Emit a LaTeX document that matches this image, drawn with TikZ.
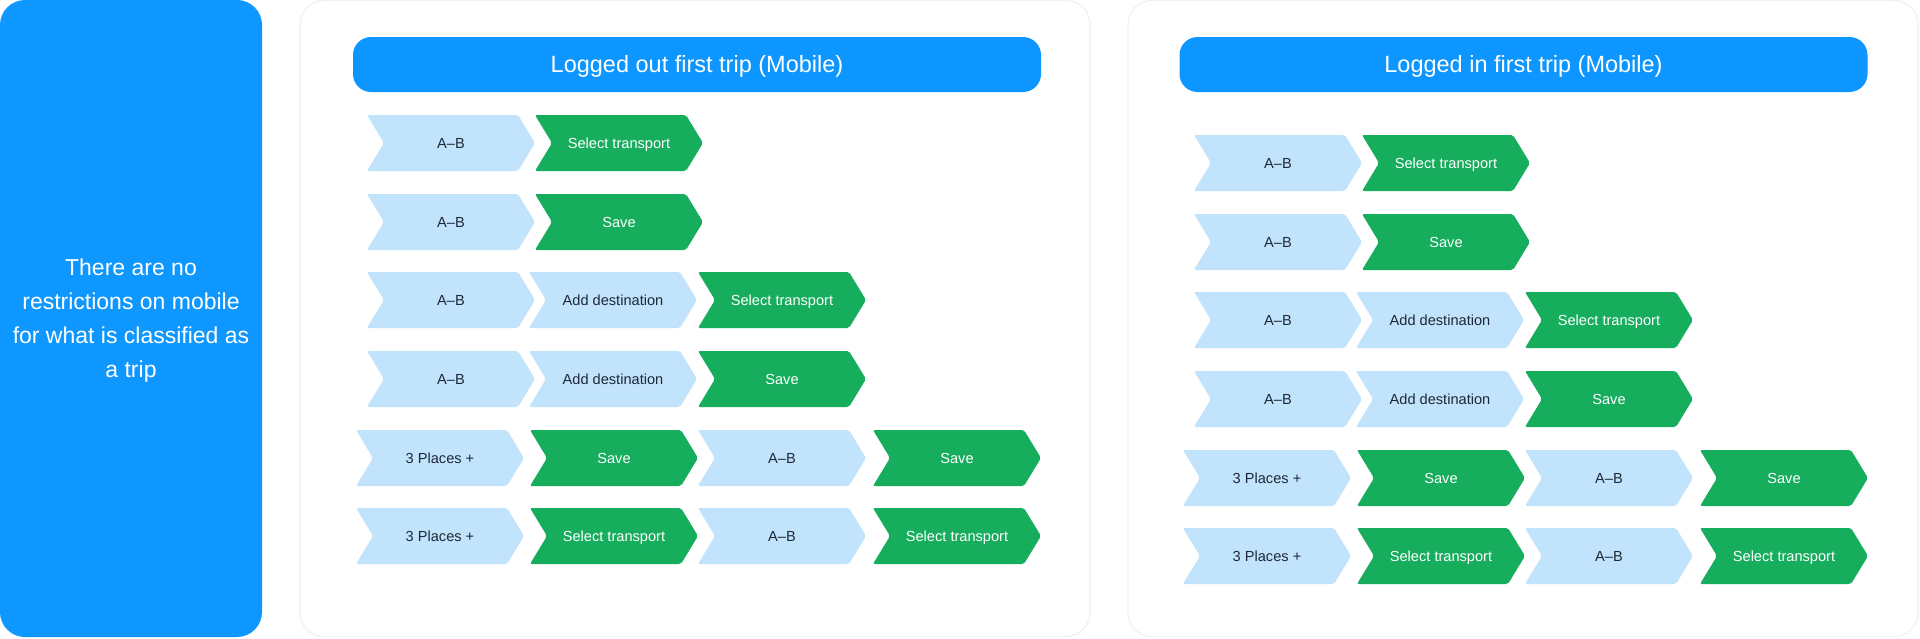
\documentclass[tikz,border=0pt]{standalone}
\usepackage{fontspec}
\setmainfont{Liberation Sans}
\definecolor{panelblue}{HTML}{0E97FE}
\definecolor{headblue}{HTML}{0D96FF}
\definecolor{chevblue}{HTML}{C1E3FB}
\definecolor{chevgreen}{HTML}{16AD5D}
\definecolor{darktext}{HTML}{1D2939}
\definecolor{cardline}{HTML}{F1F1F1}
\tikzset{
  panel/.style={fill=panelblue, rounded corners=25pt, minimum width=262pt, minimum height=637pt, inner sep=0pt},
  paneltext/.style={text=white, align=center, inner sep=0pt, font=\fontsize{23}{34}\selectfont},
  card/.style={draw=cardline, line width=1.2pt, fill=white, rounded corners=24pt,
    minimum width=790pt, minimum height=636pt, inner sep=0pt},
  header/.style={fill=headblue, rounded corners=18pt, minimum width=688pt, minimum height=55pt,
    text=white, inner sep=0pt, text height=16.8pt, text depth=0pt, font=\fontsize{23.5}{28}\selectfont},
  lbfill/.style={fill=chevblue, rounded corners=2pt},
  grfill/.style={fill=chevgreen, rounded corners=2pt},
  lbtext/.style={text=darktext, inner sep=0pt, text height=10.5pt, text depth=0pt, font=\fontsize{14.6}{17}\selectfont},
  grtext/.style={text=white, inner sep=0pt, text height=10.5pt, text depth=0pt, font=\fontsize{14.6}{17}\selectfont},
}
% #1 name, #2 left x, #3 centre y, #4 lb/gr, #5 text
\newcommand\chevbox[5]{%
  \fill[#4fill] ({#2},{#3-28}) -- ++(151,0) -- ++(17,28) -- ++(-17,28) -- ++(-151,0) -- ++(17,-28) -- cycle;
  \node[#4text] (#1) at ({#2+84},{#3}) {#5};
}
% #1 prefix, #2 dx, #3 dy
\newcommand\triprows[3]{%
  \chevbox{#1r1a}{367+#2}{143+#3}{lb}{A--B}
  \chevbox{#1r1b}{535+#2}{143+#3}{gr}{Select transport}
  \chevbox{#1r2a}{367+#2}{222+#3}{lb}{A--B}
  \chevbox{#1r2b}{535+#2}{222+#3}{gr}{Save}
  \chevbox{#1r3a}{367+#2}{300+#3}{lb}{A--B}
  \chevbox{#1r3b}{529+#2}{300+#3}{lb}{Add destination}
  \chevbox{#1r3c}{698+#2}{300+#3}{gr}{Select transport}
  \chevbox{#1r4a}{367+#2}{379+#3}{lb}{A--B}
  \chevbox{#1r4b}{529+#2}{379+#3}{lb}{Add destination}
  \chevbox{#1r4c}{698+#2}{379+#3}{gr}{Save}
  \chevbox{#1r5a}{356+#2}{458+#3}{lb}{3 Places +}
  \chevbox{#1r5b}{530+#2}{458+#3}{gr}{Save}
  \chevbox{#1r5c}{698+#2}{458+#3}{lb}{A--B}
  \chevbox{#1r5d}{873+#2}{458+#3}{gr}{Save}
  \chevbox{#1r6a}{356+#2}{536+#3}{lb}{3 Places +}
  \chevbox{#1r6b}{530+#2}{536+#3}{gr}{Select transport}
  \chevbox{#1r6c}{698+#2}{536+#3}{lb}{A--B}
  \chevbox{#1r6d}{873+#2}{536+#3}{gr}{Select transport}
}
\begin{document}
\begin{tikzpicture}[x=1pt,y=-1pt]
\useasboundingbox[fill=white] (0,0) rectangle (1920,638);
\node[panel] (panelbox) at (131,318.5) {};
\node[paneltext] (note) at (131,321) {There are no\\restrictions on mobile\\for what is classified as\\a trip};
\node[card] (cardL) at (695,318.5) {};
\node[card] (cardR) at (1523,318.5) {};
\node[header] (headL) at (697,64.5) {Logged out first trip (Mobile)};
\node[header] (headR) at (1523.5,64.5) {Logged in first trip (Mobile)};
\triprows{L}{0}{0}
\triprows{R}{827}{20}
\end{tikzpicture}
\end{document}
